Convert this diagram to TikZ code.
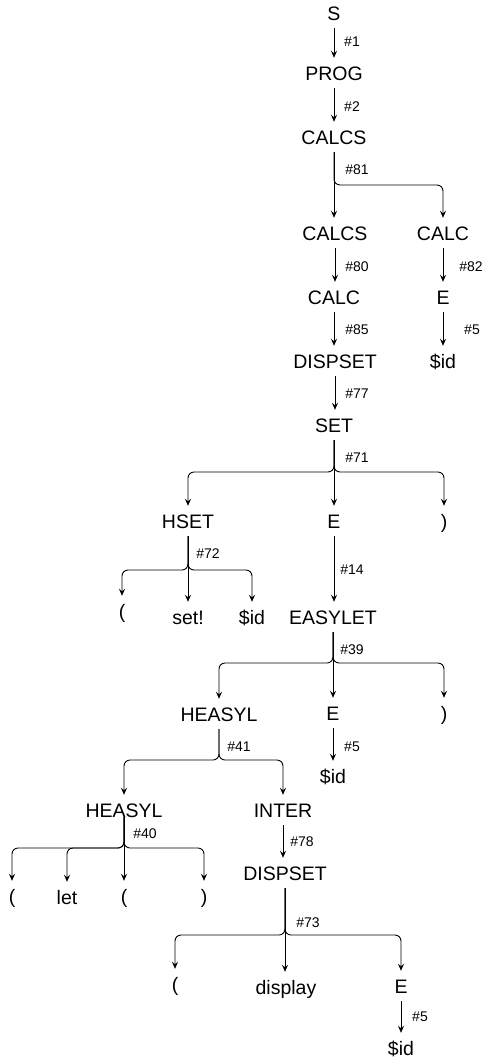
\documentclass[tikz,border=0pt]{standalone}
\usepackage{fontspec}
\setmainfont{Liberation Sans}
\usetikzlibrary{arrows.meta}
\begin{document}
\begin{tikzpicture}[x=1pt,y=-1pt,
  sym/.style={anchor=base, inner sep=0pt, text height=22pt, text depth=8pt, font=\fontsize{19.5}{23}\selectfont},
  lab/.style={inner sep=0pt, font=\fontsize{14}{16}\selectfont},
  arr/.style={draw=black, line width=0.9pt, -{Stealth[length=7pt,width=6pt,inset=2.5pt]}, rounded corners=6pt}]
\useasboundingbox (0,0) rectangle (493,1061);
% nodes
\node[sym] (s) at (334,20) {S};
\node[sym] (prog) at (334,80) {PROG};
\node[sym] (calcs) at (334,144) {CALCS};
\node[sym] (calcs2) at (335,240) {CALCS};
\node[sym] (calcr) at (443,240) {CALC};
\node[sym] (calc) at (334,304) {CALC};
\node[sym] (er) at (443,304) {E};
\node[sym] (dispset) at (335,368) {DISPSET};
\node[sym] (idr) at (443,368) {\$id};
\node[sym] (set) at (334,432) {SET};
\node[sym] (hset) at (188,528) {HSET};
\node[sym] (e1) at (334,528) {E};
\node[sym] (rp1) at (444,528) {)};
\node[sym] (lp1) at (122,618) {(};
\node[sym] (setb) at (188,624) {set!};
\node[sym] (id1) at (252,624) {\$id};
\node[sym] (easylet) at (333,624) {EASYLET};
\node[sym] (heasyl) at (219,721) {HEASYL};
\node[sym] (e2) at (333,720) {E};
\node[sym] (rp2) at (444,720) {)};
\node[sym] (id2) at (333,783) {\$id};
\node[sym] (heasyl2) at (124,817) {HEASYL};
\node[sym] (inter) at (283,817) {INTER};
\node[sym] (lp2) at (12,903) {(};
\node[sym] (let) at (67,904) {let};
\node[sym] (lp3) at (124,903) {(};
\node[sym] (rp3) at (204,903) {)};
\node[sym] (dispset2) at (285,880) {DISPSET};
\node[sym] (lp4) at (175,991) {(};
\node[sym] (display) at (286,994) {display};
\node[sym] (e3) at (401,993) {E};
\node[sym] (id3) at (401,1055) {\$id};
% branch levels
\coordinate (b81) at (0,185);
\coordinate (b71) at (0,472);
\coordinate (b72) at (0,570);
\coordinate (b39) at (0,663);
\coordinate (b41) at (0,760);
\coordinate (b40) at (0,848);
\coordinate (b73) at (0,935);
% edges
\draw[arr] (s.south) -- (s.south |- prog.north);
\draw[arr] (prog.south) -- (prog.south |- calcs.north);
\draw[arr] (calcs.south) -- (calcs.south |- calcs2.north);
\draw[arr] (calcs.south) -- (calcs.south |- b81) -| (calcr.north);
\draw[arr] (calcs2.south) -- (calcs2.south |- calc.north);
\draw[arr] (calcr.south) -- (calcr.south |- er.north);
\draw[arr] (er.south) -- (er.south |- idr.north);
\draw[arr] (calc.south) -- (calc.south |- dispset.north);
\draw[arr] (dispset.south) -- (dispset.south |- set.north);
\draw[arr] (set.south) -- (set.south |- b71) -| (hset.north);
\draw[arr] (set.south) -- (set.south |- e1.north);
\draw[arr] (set.south) -- (set.south |- b71) -| (rp1.north);
\draw[arr] (hset.south) -- (hset.south |- b72) -| (lp1.north);
\draw[arr] (hset.south) -- (hset.south |- setb.north);
\draw[arr] (hset.south) -- (hset.south |- b72) -| (id1.north);
\draw[arr] (e1.south) -- (e1.south |- easylet.north);
\draw[arr] (easylet.south) -- (easylet.south |- b39) -| (heasyl.north);
\draw[arr] (easylet.south) -- (easylet.south |- e2.north);
\draw[arr] (easylet.south) -- (easylet.south |- b39) -| (rp2.north);
\draw[arr] (e2.south) -- (e2.south |- id2.north);
\draw[arr] (heasyl.south) -- (heasyl.south |- b41) -| (heasyl2.north);
\draw[arr] (heasyl.south) -- (heasyl.south |- b41) -| (inter.north);
\draw[arr] (heasyl2.base) -- (heasyl2.base |- b40) -| (lp2.north);
\draw[arr] (heasyl2.base) -- (heasyl2.base |- b40) -- (let.north |- b40) [sharp corners] -- (let.north);
\draw[arr] (heasyl2.base) -- (heasyl2.base |- lp3.north);
\draw[arr] (heasyl2.base) -- (heasyl2.base |- b40) -| (rp3.north);
\draw[arr] (inter.south) -- (inter.south |- dispset2.north);
\draw[arr] (dispset2.south) -- (dispset2.south |- b73) -| (lp4.north);
\draw[arr] (dispset2.south) -- (dispset2.south |- display.north);
\draw[arr] (dispset2.south) -- (dispset2.south |- b73) -| (e3.north);
\draw[arr] (e3.south) -- (e3.south |- id3.north);
% labels
\node[lab] (l1) at (352,42) {\#1};
\node[lab] (l2) at (352,107) {\#2};
\node[lab] (l81) at (357,170) {\#81};
\node[lab] (l80) at (357,267) {\#80};
\node[lab] (l82) at (471,267) {\#82};
\node[lab] (l5a) at (472,330) {\#5};
\node[lab] (l85) at (357,330) {\#85};
\node[lab] (l77) at (357,394) {\#77};
\node[lab] (l71) at (357,458) {\#71};
\node[lab] (l72) at (208,554) {\#72};
\node[lab] (l14) at (352,570) {\#14};
\node[lab] (l39) at (352,650) {\#39};
\node[lab] (l41) at (239,747) {\#41};
\node[lab] (l5b) at (352,747) {\#5};
\node[lab] (l40) at (145,834) {\#40};
\node[lab] (l78) at (302,842) {\#78};
\node[lab] (l73) at (308,923) {\#73};
\node[lab] (l5c) at (420,1017) {\#5};
\end{tikzpicture}
\end{document}
